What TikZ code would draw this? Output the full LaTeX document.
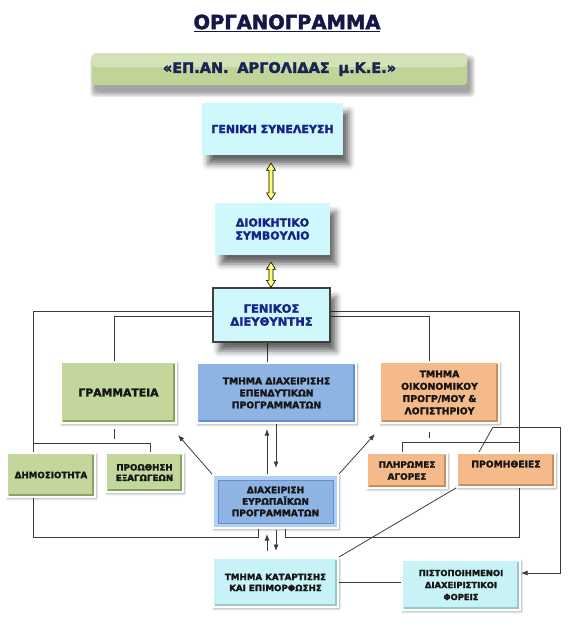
\documentclass[tikz,border=0pt]{standalone}
\usepackage{fontspec}
\setmainfont{DejaVu Sans}[BoldFont={DejaVu Sans Bold},BoldFeatures={FakeBold=2.2}]
\usetikzlibrary{shadows.blur,arrows.meta,calc,backgrounds}
\definecolor{navytxt}{RGB}{22,36,138}
\definecolor{titlecol}{RGB}{22,22,72}
\definecolor{bannertxt}{RGB}{24,36,84}
\definecolor{blk}{RGB}{22,22,22}
\definecolor{linecol}{RGB}{60,60,60}
\definecolor{cyanA}{RGB}{206,248,252}
\definecolor{cyanB}{RGB}{200,243,246}
\definecolor{cyanBd}{RGB}{150,200,205}
\definecolor{greenA}{RGB}{195,214,155}
\definecolor{greenD}{RGB}{140,162,96}
\definecolor{blueA}{RGB}{142,180,227}
\definecolor{blueD}{RGB}{100,140,200}
\definecolor{blueF}{RGB}{178,208,244}
\definecolor{orangeA}{RGB}{245,186,138}
\definecolor{orangeD}{RGB}{200,140,95}
\definecolor{banA}{RGB}{212,226,184}
\definecolor{banB}{RGB}{192,212,152}
\definecolor{yel}{RGB}{255,255,110}
\definecolor{gdborder}{RGB}{64,64,64}
\tikzset{
 conn/.style={draw=linecol, line width=0.8pt},
 tip/.style={-{Latex[length=6.5pt,width=5pt]}},
 yarrow/.style={fill=yel, draw=black, line width=0.6pt},
 topbox/.style={fill=cyanA, text=navytxt, align=center, font=\fontsize{11}{13}\selectfont\bfseries, inner sep=0pt,
   blur shadow={shadow xshift=6pt, shadow yshift=-9pt, shadow blur radius=6pt, shadow opacity=60}},
 lowbox/.style={draw=white, line width=2pt, text=blk, align=center, inner sep=0pt,
   blur shadow={shadow xshift=1pt, shadow yshift=-1.5pt, shadow blur radius=2.5pt, shadow opacity=40}},
 bevel/.style={path picture={\draw[#1, line width=2pt] ([shift={(2pt,2pt)}]path picture bounding box.south west) -- ([shift={(-2pt,2pt)}]path picture bounding box.south east) -- ([shift={(-2pt,-2pt)}]path picture bounding box.north east);}},
 greenbox/.style={lowbox, fill=greenA, bevel=greenD},
 orangebox/.style={lowbox, fill=orangeA, bevel=orangeD},
 bluebox/.style={lowbox, fill=blueA, bevel=blueD},
 cyanbox/.style={lowbox, fill=cyanB, bevel=cyanBd},
 eurobox/.style={lowbox, fill=blueF, path picture={
   \fill[blueA] ([shift={(5pt,5pt)}]path picture bounding box.south west) rectangle ([shift={(-5pt,-5pt)}]path picture bounding box.north east);
   \draw[blueD, line width=0.7pt] ([shift={(5pt,5pt)}]path picture bounding box.south west) rectangle ([shift={(-5pt,-5pt)}]path picture bounding box.north east);}},
 bannerbox/.style={rounded corners=4pt, fill=banB, inner sep=0pt, text=bannertxt,
   path picture={\fill[banA] (path picture bounding box.north west) rectangle ([yshift=-14pt]path picture bounding box.north east);}},
 fS/.style={font=\fontsize{8.7}{11}\selectfont\bfseries},
 fM/.style={font=\fontsize{9.2}{12}\selectfont\bfseries},
}
\newcommand\yelarrow[2]{\draw[yarrow] (#1) -- ++(4.5,7) -- ++(-2.5,0) -- ($(#2)+(2,-7)$) -- ++(2.5,0) -- (#2) -- ++(-4.5,-7) -- ++(2.5,0) -- ($(#1)+(-2,7)$) -- ++(-2.5,0) -- cycle;}
\begin{document}
\begin{tikzpicture}[x=1pt,y=-1pt]
\useasboundingbox (0,0) rectangle (574,643);
\begin{pgfonlayer}{background}
\fill[white] (0,0) rectangle (574,643);
\end{pgfonlayer}
% off-page warm-up of the blur-shadow fading (lies outside the page)
\path[blur shadow={shadow opacity=1}] (-60,-60) rectangle (-40,-40);

% title and banner
\node[font=\fontsize{19.5}{22}\selectfont\bfseries, text=titlecol] (title) at (287,23) {\underline{ΟΡΓΑΝΟΓΡΑΜΜΑ}};
\foreach \i in {0,1,2,3,4,5} {\fill[black, opacity=0.07, rounded corners=4pt] (95-\i,60-\i) rectangle (470+\i,92+\i);}
\node[bannerbox, minimum width=375pt, minimum height=32pt, font=\fontsize{14.5}{16}\selectfont\bfseries] (ban) at (279.5,69)
  {«ΕΠ.ΑΝ.\hspace{0.6em}ΑΡΓΟΛΙΔΑΣ\hspace{0.6em}μ.Κ.Ε.»};

% top chain
\node[topbox, minimum width=141pt, minimum height=52pt] (gs) at (272.5,129) {ΓΕΝΙΚΗ ΣΥΝΕΛΕΥΣΗ};
\node[topbox, minimum width=115pt, minimum height=52pt] (dio) at (272.5,229) {ΔΙΟΙΚΗΤΙΚΟ\\ΣΥΜΒΟΥΛΙΟ};
\node[topbox, draw=gdborder, line width=1.2pt, fill=cyanA, minimum width=117pt, minimum height=54pt,
  font=\fontsize{11.5}{13}\selectfont\bfseries] (gd) at (271.5,315) {ΓΕΝΙΚΟΣ\\ΔΙΕΥΘΥΝΤΗΣ};

% departments
\node[greenbox, minimum width=115pt, minimum height=61pt, font=\fontsize{10.8}{13}\selectfont\bfseries] (gram) at (118.5,392.5) {ΓΡΑΜΜΑΤΕΙΑ};
\node[bluebox, fM, minimum width=159pt, minimum height=60pt] (dep) at (276.5,393) {ΤΜΗΜΑ ΔΙΑΧΕΙΡΙΣΗΣ\\ΕΠΕΝΔΥΤΙΚΩΝ\\ΠΡΟΓΡΑΜΜΑΤΩΝ};
\node[orangebox, font=\fontsize{9.3}{12.3}\selectfont\bfseries, minimum width=119pt, minimum height=61pt] (oik) at (439.5,392.5) {ΤΜΗΜΑ\\ΟΙΚΟΝΟΜΙΚΟΥ\\ΠΡΟΓΡ/ΜΟΥ \&\\ΛΟΓΙΣΤΗΡΙΟΥ};

\node[greenbox, fS, minimum width=88pt, minimum height=44pt] (dim) at (51,475) {ΔΗΜΟΣΙΟΤΗΤΑ};
\node[greenbox, font=\fontsize{8.7}{10.5}\selectfont\bfseries, minimum width=77pt, minimum height=39pt] (pro) at (144.5,472.5) {ΠΡΟΩΘΗΣΗ\\ΕΞΑΓΩΓΕΩΝ};
\node[orangebox, font=\fontsize{8.9}{12}\selectfont\bfseries, minimum width=80pt, minimum height=35pt] (pli) at (407,470.5) {ΠΛΗΡΩΜΕΣ\\ΑΓΟΡΕΣ};
\node[orangebox, font=\fontsize{9.2}{12}\selectfont\bfseries, minimum width=98pt, minimum height=34pt] (prom) at (506,470) {ΠΡΟΜΗΘΕΙΕΣ\\\mbox{}};

\node[eurobox, font=\fontsize{9}{11.5}\selectfont\bfseries, minimum width=125pt, minimum height=53pt] (euro) at (275.5,501.5) {ΔΙΑΧΕΙΡΙΣΗ\\ΕΥΡΩΠΑΪΚΩΝ\\ΠΡΟΓΡΑΜΜΑΤΩΝ};

\node[cyanbox, font=\fontsize{8.7}{11}\selectfont\bfseries, minimum width=125pt, minimum height=49pt] (kat) at (275.5,582.5) {ΤΜΗΜΑ ΚΑΤΑΡΤΙΣΗΣ\\ΚΑΙ ΕΠΙΜΟΡΦΩΣΗΣ};
\node[cyanbox, font=\fontsize{8.4}{12}\selectfont\bfseries, minimum width=118pt, minimum height=50pt] (pist) at (461,585) {ΠΙΣΤΟΠΟΙΗΜΕΝΟΙ\\ΔΙΑΧΕΙΡΙΣΤΙΚΟΙ\\ΦΟΡΕΙΣ};

% yellow double arrows
\coordinate (ya1) at ([xshift=-1.5pt,yshift=-8pt]gs.south);
\coordinate (yb1) at ([xshift=-1.5pt,yshift=3pt]dio.north);
\coordinate (ya2) at ([xshift=-1.5pt,yshift=-7pt]dio.south);
\coordinate (yb2) at ([xshift=-0.5pt]gd.north);
\yelarrow{ya1}{yb1}
\yelarrow{ya2}{yb2}

% free connector points
\coordinate (oLB) at (33,537);
\coordinate (oRB) at (519,537);
\coordinate (tL) at (258,528);
\coordinate (tR) at (285,528);
\coordinate (jl) at (33,443);
\coordinate (jr) at (519,442);
\coordinate (kp) at (493,427);
\coordinate (kq) at (560,427);
\coordinate (gtip) at (178,435);
\coordinate (otip) at (375,434);

\begin{pgfonlayer}{background}
% outer frame from the director
\draw[conn] ([yshift=3.5pt]gd.west) -| (oLB) -| (tL);
\draw[conn] ([yshift=3.5pt]gd.east) -| (oRB) -| (tR);
% inner branches
\draw[conn] ([yshift=-1pt]gd.west) -| ([xshift=-4.5pt]gram.north);
\draw[conn] ([yshift=-1pt]gd.east) -| ([xshift=-10.5pt]oik.north);
\draw[conn] ([xshift=-4.5pt]gd.south) -- ([xshift=-4.5pt]gd.south |- dep.north);
% stubs under the two side departments
\draw[conn] ([xshift=-4.5pt,yshift=-5pt]gram.south) -- ++(0,10);
\draw[conn] ([xshift=-10.5pt,yshift=-8pt]oik.south) -- ++(0,6);
% sub-units
\draw[conn] (jl) -| ([xshift=5.5pt]pro.north);
\draw[conn] (jr) -| ([xshift=-5pt]pli.north);
\draw[conn] (kp) -- ([xshift=-27pt]prom.north);
\draw[conn, tip] (kp) -- (kq) |- ([yshift=12pt]pist.east);
\draw[conn] (prom.south west) -- (kat.north east);
\draw[conn] (kat.east) -- (kat.east -| pist.west);
% arrows around the European programmes unit
\draw[conn, tip] (euro.north west) -- (gtip);
\draw[conn, tip] (euro.north east) -- (otip);
\draw[conn, tip] ([xshift=-8.5pt]euro.north) -- ([xshift=-9.5pt,yshift=-5pt]dep.south);
\draw[conn, tip] ([xshift=-0.5pt]dep.south) -- ([xshift=0.5pt,yshift=6pt]euro.north);
\draw[conn, tip] ([xshift=-8.5pt,yshift=6pt]kat.north) -- ([xshift=-8.5pt,yshift=-5pt]euro.south);
\draw[conn, tip] ([xshift=0.5pt,yshift=-1pt]euro.south) -- ([xshift=0.5pt,yshift=6pt]kat.north);
\end{pgfonlayer}
\end{tikzpicture}
\end{document}
